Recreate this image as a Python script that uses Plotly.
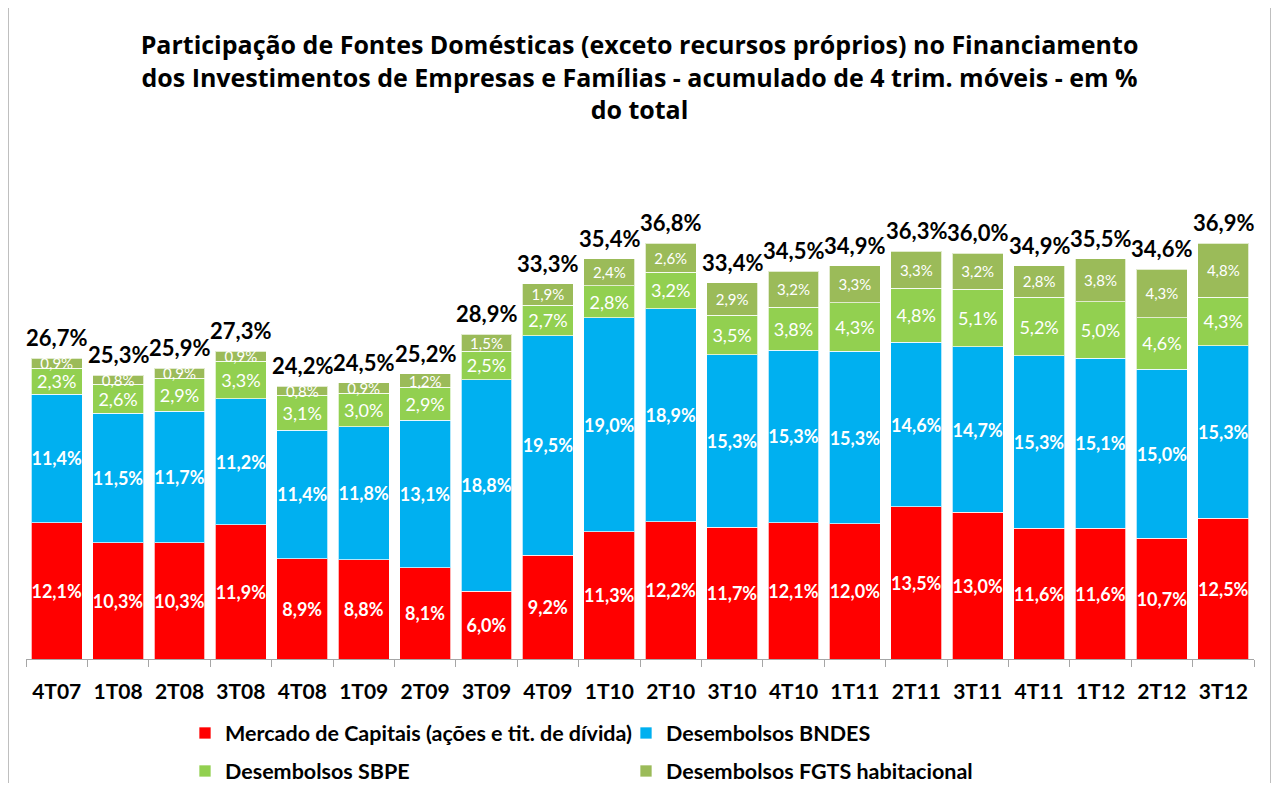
import plotly.graph_objects as go

categories = ["4T07","1T08","2T08","3T08","4T08","1T09","2T09","3T09","4T09","1T10",
              "2T10","3T10","4T10","1T11","2T11","3T11","4T11","1T12","2T12","3T12"]
mercado = [12.1,10.3,10.3,11.9,8.9,8.8,8.1,6.0,9.2,11.3,12.2,11.7,12.1,12.0,13.5,13.0,11.6,11.6,10.7,12.5]
bndes = [11.4,11.5,11.7,11.2,11.4,11.8,13.1,18.8,19.5,19.0,18.9,15.3,15.3,15.3,14.6,14.7,15.3,15.1,15.0,15.3]
sbpe = [2.3,2.6,2.9,3.3,3.1,3.0,2.9,2.5,2.7,2.8,3.2,3.5,3.8,4.3,4.8,5.1,5.2,5.0,4.6,4.3]
fgts = [0.9,0.8,0.9,0.9,0.8,0.9,1.2,1.5,1.9,2.4,2.6,2.9,3.2,3.3,3.3,3.2,2.8,3.8,4.3,4.8]
totals = [26.7,25.3,25.9,27.3,24.2,24.5,25.2,28.9,33.3,35.4,36.8,33.4,34.5,34.9,36.3,36.0,34.9,35.5,34.6,36.9]

names = ["Mercado de Capitais (ações e tit. de dívida)", "Desembolsos BNDES",
         "Desembolsos SBPE", "Desembolsos FGTS habitacional"]
colors = ["#FF0000", "#00B0F0", "#92D050", "#9BBB59"]

FONT = "Lato"
TFONT = "Open Sans"

def fmt(v):
    return f"{v:.1f}".replace(".", ",") + "%"

fig = go.Figure()
line = dict(color="rgba(255,255,255,0.7)", width=1)

series = [mercado, bndes, sbpe, fgts]
label_fonts = [dict(family=FONT, size=18, color="white", weight="bold"),
               dict(family=FONT, size=18, color="white", weight="bold"),
               dict(family=FONT, size=18, color="white"),
               dict(family=FONT, size=15, color="white")]
legends = ["legend", "legend", "legend2", "legend2"]

for vals, nm, col, lf, lg in zip(series, names, colors, label_fonts, legends):
    fig.add_trace(go.Bar(x=categories, y=vals, name=nm, marker=dict(color=col, line=line),
                         text=[fmt(v) for v in vals], textposition="inside", insidetextanchor="middle",
                         textangle=0, constraintext="none", insidetextfont=lf, cliponaxis=False,
                         legend=lg))

tops = [a + b + c + d for a, b, c, d in zip(mercado, bndes, sbpe, fgts)]
annotations = []
for c, t, tot in zip(categories, tops, totals):
    annotations.append(dict(x=c, y=t, text=fmt(tot), showarrow=False, yanchor="bottom", yshift=5,
                            font=dict(family=FONT, size=22, color="black", weight="bold")))

# the page body adds an 8px offset, so the figure is sized to the visible window minus it
W, H = 1263, 775
L, R, T, B = 18, 17, 192, 124
pw, ph = W - L - R, H - T - B

def px_x(p):
    return (p - L) / pw

def px_y(p):
    return (H - B - p) / ph

fig.update_layout(
    width=W, height=H,
    margin=dict(l=L, r=R, t=T, b=B, autoexpand=False),
    paper_bgcolor="white", plot_bgcolor="white",
    barmode="stack", bargap=0.17,
    title=dict(text="Participação de Fontes Domésticas (exceto recursos próprios) no Financiamento<br>"
                    "dos Investimentos de Empresas e Famílias - acumulado de 4 trim. móveis - em %<br>do total",
               x=0.5, xanchor="center", y=1 - 46 / H, yanchor="top", yref="container",
               font=dict(family=TFONT, size=25, color="black", weight="bold")),
    xaxis=dict(type="category", range=[-0.5, len(categories) - 0.5], showline=True,
               linecolor="#A6A6A6", linewidth=1,
               ticks="outside", tickson="boundaries", ticklen=7, tickcolor="#A6A6A6",
               ticklabelstandoff=14,
               tickfont=dict(family=FONT, size=21, color="black", weight="bold"),
               showgrid=False, fixedrange=True),
    yaxis=dict(range=[0, ph / 11.27], visible=False, showgrid=False, fixedrange=True),
    showlegend=True,
    legend=dict(orientation="h", traceorder="normal", xref="container", yref="container",
                x=177 / W, y=1 - 725 / H,
                xanchor="left", yanchor="middle", entrywidth=396, entrywidthmode="pixels",
                itemwidth=30, font=dict(family=FONT, size=21.5, color="black", weight="bold"),
                bgcolor="rgba(0,0,0,0)"),
    legend2=dict(orientation="h", traceorder="normal", xref="container", yref="container",
                 x=177 / W, y=1 - 763 / H,
                 xanchor="left", yanchor="middle", entrywidth=396, entrywidthmode="pixels",
                 itemwidth=30, font=dict(family=FONT, size=21.5, color="black", weight="bold"),
                 bgcolor="rgba(0,0,0,0)"),
    annotations=annotations,
    shapes=[dict(type="rect", xref="paper", yref="paper", x0=px_x(0.5), x1=px_x(W - 0.5),
                 y0=px_y(H + 20), y1=px_y(-20), line=dict(color="#BFBFBF", width=1),
                 fillcolor="rgba(0,0,0,0)")],
)

fig.write_html("out.html")
